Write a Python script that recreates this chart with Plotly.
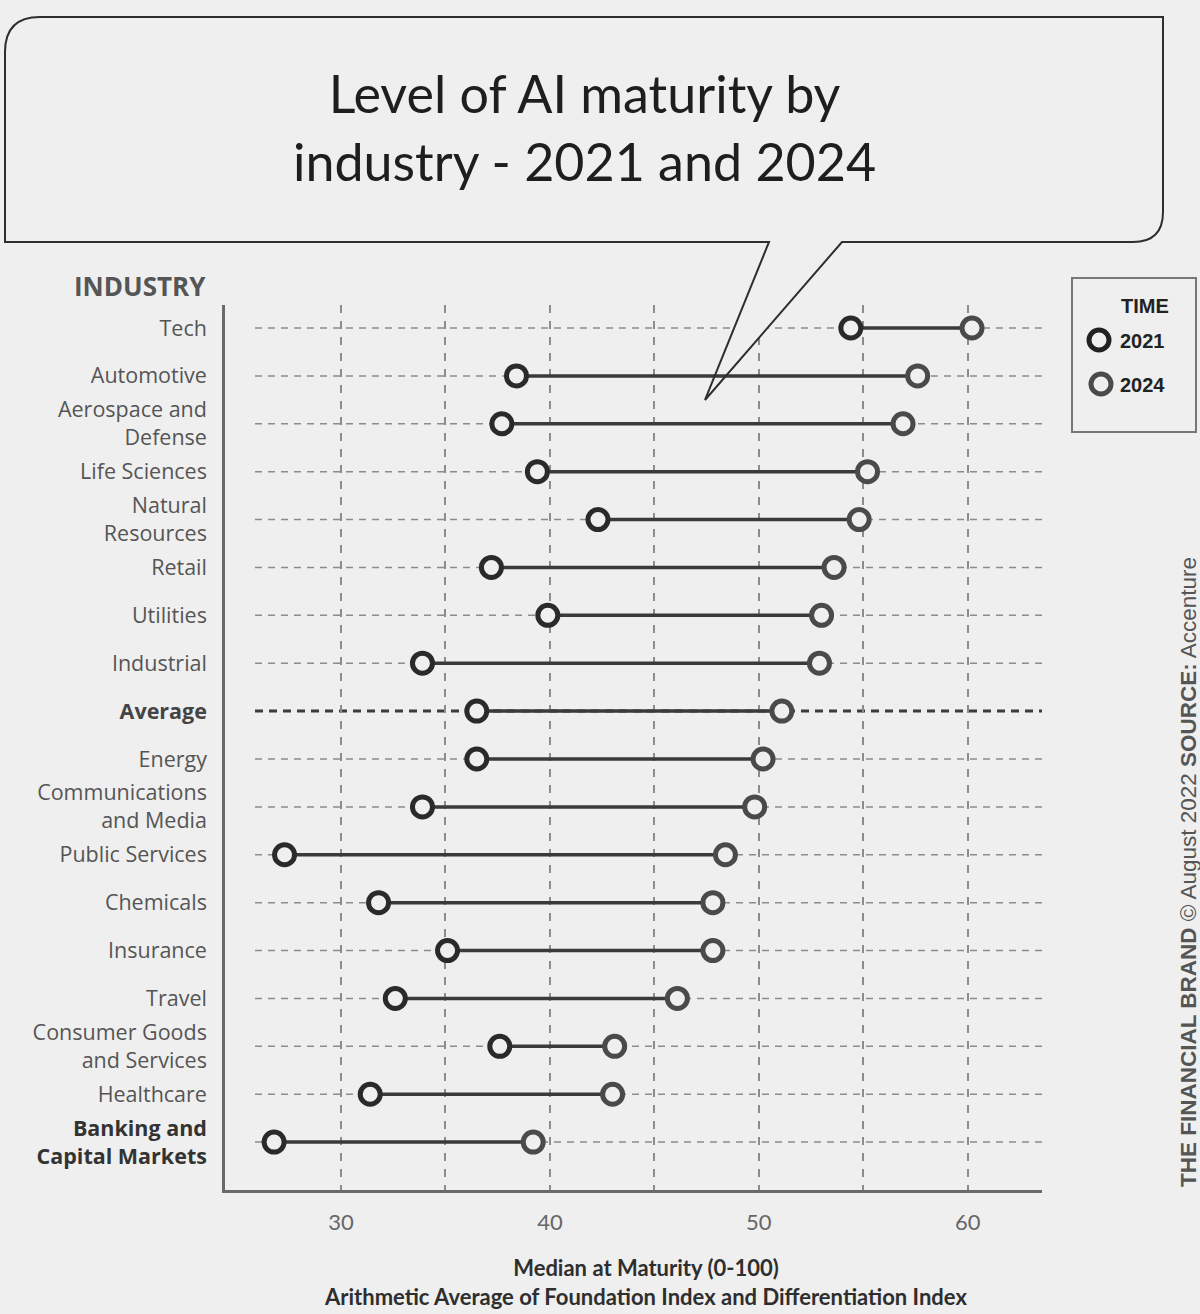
import plotly.graph_objects as go

# ---- data -------------------------------------------------------------
industries = [
    "Tech", "Automotive", "Aerospace and<br>Defense", "Life Sciences",
    "Natural<br>Resources", "Retail", "Utilities", "Industrial", "Average",
    "Energy", "Communications<br>and Media", "Public Services", "Chemicals",
    "Insurance", "Travel", "Consumer Goods<br>and Services", "Healthcare",
    "Banking and<br>Capital Markets",
]
maturity_2021 = [54.4, 38.4, 37.7, 39.4, 42.3, 37.2, 39.9, 33.9, 36.5,
                 36.5, 33.9, 27.3, 31.8, 35.1, 32.6, 37.6, 31.4, 26.8]
maturity_2024 = [60.2, 57.6, 56.9, 55.2, 54.8, 53.6, 53.0, 52.9, 51.1,
                 50.2, 49.8, 48.4, 47.8, 47.8, 46.1, 43.1, 43.0, 39.2]
x_ticks = [30, 40, 50, 60]
x_minor = [35, 45, 55]

# ---- geometry ---------------------------------------------------------
W, H = 1200, 1314
ML, MR, MT, MB = 225, 158, 305, 124
X_RANGE = [24.45, 63.55]
Y_RANGE = [18.0, -0.48]
BG = "#efefef"


def pxx(px):
    return (px - ML) / (W - ML - MR)


def pxy(py):
    return (H - MB - py) / (H - MT - MB)


def dx(px):
    return X_RANGE[0] + (px - ML) / (W - ML - MR) * (X_RANGE[1] - X_RANGE[0])


def dy(py):
    return Y_RANGE[1] + (py - MT) / (H - MT - MB) * (Y_RANGE[0] - Y_RANGE[1])


def label(name):
    if name == "Average":
        return "<b><span style='color:#444'>Average</span></b>"
    if name.startswith("Banking"):
        return "<b><span style='color:#333'>" + name + "</span></b>"
    return name


def text_note(text, x, y, size, family, color, xanchor="center", **kw):
    return dict(text=text, x=pxx(x), y=pxy(y), xref="paper", yref="paper",
                xanchor=xanchor, yanchor="middle", showarrow=False,
                font=dict(family=family, size=size, color=color), **kw)


rows = list(range(len(industries)))

fig = go.Figure()

# connectors between the two years
cx, cy = [], []
for i, (a, b) in enumerate(zip(maturity_2021, maturity_2024)):
    cx += [a, b, None]
    cy += [i, i, None]
fig.add_trace(go.Scatter(x=cx, y=cy, mode="lines",
                         line=dict(color="#3a3a3a", width=3.5),
                         hoverinfo="skip", showlegend=False))

fig.add_trace(go.Scatter(
    x=maturity_2024, y=rows, mode="markers", name="2024",
    marker=dict(size=20, color=BG, line=dict(color="#4a4a4a", width=5)),
    showlegend=False))
fig.add_trace(go.Scatter(
    x=maturity_2021, y=rows, mode="markers", name="2021",
    marker=dict(size=20, color=BG, line=dict(color="#2a2a2a", width=5)),
    showlegend=False))

shapes = []
# dashed row guides
for i, name in enumerate(industries):
    avg = name == "Average"
    shapes.append(dict(
        type="line", xref="x", yref="y", layer="below",
        x0=dx(255), x1=X_RANGE[1], y0=i, y1=i,
        line=dict(color="#3c3c3c" if avg else "#8c8c8c",
                  width=3 if avg else 1.5,
                  dash="8px,6px" if avg else "7px,6px")))

# speech bubble holding the title
pts = [("M", 5, 52), ("Q", 5, 17, 40, 17), ("L", 1163, 17), ("L", 1163, 212),
       ("Q", 1163, 242, 1133, 242), ("L", 842, 242), ("L", 705, 400),
       ("L", 769, 242), ("L", 5, 242)]
path = ""
for p in pts:
    cmd, coords = p[0], p[1:]
    parts = []
    for k in range(0, len(coords), 2):
        parts.append(f"{pxx(coords[k]):.5f},{pxy(coords[k + 1]):.5f}")
    path += cmd + " " + " ".join(parts) + " "
path += "Z"
shapes.append(dict(type="path", xref="paper", yref="paper", path=path,
                   line=dict(color="#2e2e2e", width=2), fillcolor="rgba(0,0,0,0)",
                   layer="above"))
# pointer interior masks the grid inside the plot area
tri = (f"M {dx(769):.4f},{dy(242):.4f} L {dx(842):.4f},{dy(242):.4f} "
       f"L {dx(705):.4f},{dy(400):.4f} Z")
shapes.append(dict(type="path", xref="x", yref="y", path=tri,
                   fillcolor=BG, line=dict(width=0), layer="between"))

# legend box
shapes.append(dict(type="rect", xref="paper", yref="paper",
                   x0=pxx(1072), x1=pxx(1196), y0=pxy(432), y1=pxy(278),
                   line=dict(color="#777", width=2), fillcolor=BG))
for cxp, cyp, col in [(1099, 340, "#222"), (1101, 384, "#4a4a4a")]:
    shapes.append(dict(type="circle", xref="paper", yref="paper",
                       xsizemode="pixel", ysizemode="pixel",
                       xanchor=pxx(cxp), yanchor=pxy(cyp),
                       x0=-10, x1=10, y0=-10, y1=10,
                       line=dict(color=col, width=5), fillcolor=BG))

annotations = [
    text_note("Level of AI maturity by<br>industry - 2021 and 2024",
              584, 127, 52, "Lato", "#1e1e1e"),
    text_note("<b>INDUSTRY</b>", 208, 286, 26, "Open Sans", "#555", xanchor="right"),
    text_note("<b>Median at Maturity (0-100)<br>"
              "Arithmetic Average of Foundation Index and Differentiation Index</b>",
              645, 1282, 22, "Lato", "#2e2e2e"),
    text_note("<b>TIME</b>", 1145, 306, 20, "Liberation Sans", "#222"),
    text_note("<b>2021</b>", 1118, 341, 20, "Liberation Sans", "#222", xanchor="left"),
    text_note("<b>2024</b>", 1118, 385, 20, "Liberation Sans", "#222", xanchor="left"),
    text_note("<b>THE FINANCIAL BRAND</b> © August 2022 <b>SOURCE:</b> Accenture",
              1188, 872, 22.5, "Liberation Sans", "#555", textangle=-90),
]

fig.update_layout(
    width=W, height=H,
    margin=dict(l=ML, r=MR, t=MT, b=MB, pad=0),
    paper_bgcolor=BG, plot_bgcolor=BG,
    shapes=shapes, annotations=annotations,
    showlegend=False,
    xaxis=dict(
        range=X_RANGE, tickvals=x_ticks, ticktext=[str(v) for v in x_ticks],
        showline=True, linecolor="#6a6a6a", linewidth=2.5,
        showgrid=True, gridcolor="#8c8c8c", gridwidth=1.5, griddash="8px,8px",
        minor=dict(tickvals=x_minor, showgrid=True, gridcolor="#8c8c8c",
                   gridwidth=1.5, griddash="8px,8px"),
        zeroline=False, ticks="", ticklabelstandoff=11,
        tickfont=dict(family="Lato", size=22, color="#666"),
    ),
    yaxis=dict(
        range=Y_RANGE, tickvals=rows, ticktext=[label(n) for n in industries],
        showline=True, linecolor="#6a6a6a", linewidth=2.5,
        showgrid=False, zeroline=False, ticks="", ticklabelstandoff=11,
        tickfont=dict(family="Open Sans", size=21.5, color="#555"),
    ),
)

fig.write_html("out.html")
